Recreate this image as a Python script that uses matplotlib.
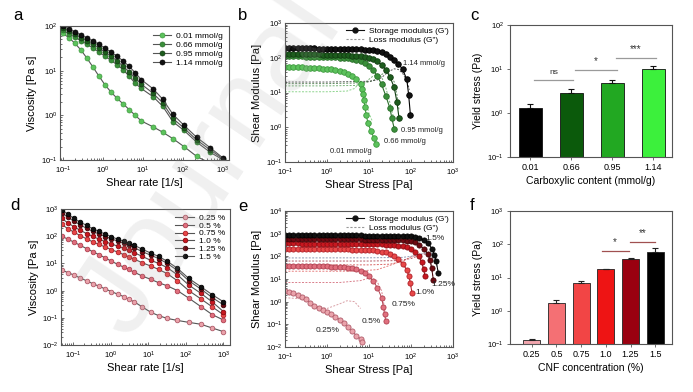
import matplotlib
matplotlib.use("Agg")  # no display in the sandbox
import matplotlib.pyplot as plt
import numpy as np
from matplotlib.lines import Line2D
from matplotlib.ticker import LogLocator, NullFormatter, NullLocator

plt.rcParams["font.family"] = ["Liberation Sans", "DejaVu Sans"]
plt.rcParams["mathtext.fontset"] = "custom"
plt.rcParams["mathtext.rm"] = "Liberation Sans"
plt.rcParams["axes.unicode_minus"] = True

# ---------------------------------------------------------------------------
# Data
# ---------------------------------------------------------------------------

# (a) viscosity vs shear rate, carboxylic content series
rate_a = [0.1, 0.141, 0.2, 0.283, 0.4, 0.566, 0.8, 1.13, 1.6, 2.26, 3.2,
          4.5, 6.4, 9.05, 18, 31, 56, 105, 220, 470, 1000]
visc_a_001 = [68, 55, 41, 29, 19, 12, 7.5, 4.8, 3.3, 2.4, 1.8, 1.35, 1.0,
              0.75, 0.55, 0.42, 0.3, 0.2, 0.12, 0.085, 0.06]
visc_a_066 = [80, 67, 56, 47, 39, 32, 26, 21, 17, 13.5, 10.5, 7.5, 5.2, 4.0,
              2.6, 1.6, 0.72, 0.46, 0.25, 0.15, 0.1]
visc_a_095 = [90, 77, 65, 55, 46, 39, 32, 26, 21, 16.5, 12.5, 9.5, 6.8, 5.0,
              3.1, 1.9, 0.85, 0.52, 0.28, 0.17, 0.105]
visc_a_114 = [100, 86, 74, 63, 54, 46, 39, 32, 26, 21, 16.5, 12.5, 9.0, 6.3,
              3.9, 2.3, 1.05, 0.6, 0.32, 0.19, 0.11]
labels_a = ["0.01 mmol/g", "0.66 mmol/g", "0.95 mmol/g", "1.14 mmol/g"]

# common stress sweep (b, e)
stress = [0.1, 0.126, 0.158, 0.2, 0.251, 0.316, 0.398, 0.501, 0.631, 0.794,
          1.0, 1.26, 1.58, 2.0, 2.51, 3.16, 3.98, 5.01, 6.31, 7.94,
          10.0, 12.6, 15.8, 20.0, 25.1, 31.6, 39.8, 50.1, 63.1, 79.4,
          100, 126, 158, 200, 251, 316, 398, 501]

# (b) storage modulus
x_b_114 = stress[:30] + [88, 97]
g_b_114 = [188, 188, 187, 187, 186, 186, 185, 185, 184, 184,
           183, 182, 181, 180, 179, 178, 177, 175, 173, 171,
           168, 164, 158, 145, 128, 108, 88, 68, 46, 24, 8.4, 2.2]
x_b_095 = stress[:27] + [46, 52]
g_b_095 = [128, 128, 127, 127, 127, 126, 126, 125, 125, 124,
           124, 123, 122, 121, 120, 118, 116, 113, 110, 105,
           98, 90, 78, 62, 45, 28, 14, 5.5, 1.8]
x_b_066 = stress[:26] + [35, 40]
g_b_066 = [110, 110, 109, 109, 109, 108, 108, 107, 107, 106,
           105, 104, 103, 101, 99, 96, 92, 87, 80, 70,
           58, 44, 30, 17, 8, 3.5, 1.8, 0.9]
x_b_001 = stress[:19] + [6.9, 7.2, 7.6, 8.0, 8.6, 9.5, 11, 13, 14.8]
g_b_001 = [54, 54, 53, 53, 53, 52, 52, 51, 50, 49,
           48, 46, 44, 41, 38, 34, 29, 24, 18,
           13, 9, 6, 3.8, 2.2, 1.3, 0.8, 0.5, 0.32]

# (b) loss modulus
lx_b_114 = [0.1, 1, 10, 15.8, 20, 25, 31.6, 40, 50, 63, 79, 92]
l_b_114 = [20, 20, 21, 23, 27, 34, 42, 48, 46, 36, 22, 12]
lx_b_095 = [0.1, 1, 7.9, 12.6, 15.8, 20, 25, 31.6, 40, 46, 52]
l_b_095 = [18, 18, 19, 22, 27, 33, 38, 34, 20, 9, 3]
lx_b_066 = [0.1, 1, 5, 7.9, 10, 12.6, 15.8, 20, 25, 31.6, 38]
l_b_066 = [15.5, 15.5, 16, 19, 24, 30, 34, 28, 14, 5, 2]
lx_b_001 = [0.1, 1, 3, 4.5, 5.5, 6.3, 7, 7.6, 8.6, 10, 12]
l_b_001 = [10.5, 10.5, 11, 13, 17, 21, 20, 12, 5, 2.5, 1.5]

# (c) yield stress vs carboxylic content
content_c = ["0.01", "0.66", "0.95", "1.14"]
yield_c = [1.3, 2.8, 4.9, 10.2]
err_c = [0.28, 0.75, 0.65, 1.4]

# (d) viscosity vs shear rate, CNF concentration series
rate_d = [0.05, 0.073, 0.107, 0.156, 0.23, 0.335, 0.49, 0.72, 1.05, 1.54,
          2.25, 3.0, 4.2, 7.0, 11.7, 19, 32, 60, 120, 250, 510, 1000]
visc_d_025 = [5.7, 4.6, 3.7, 2.9, 2.3, 1.8, 1.45, 1.15, 0.92, 0.74, 0.6,
              0.48, 0.39, 0.25, 0.16, 0.12, 0.095, 0.08, 0.068, 0.058,
              0.042, 0.031]
visc_d_050 = [100, 78, 60, 46, 35, 27, 21, 16, 12, 9.3, 7.2, 6.0, 4.8, 3.4,
              2.6, 1.95, 1.5, 1.0, 0.53, 0.26, 0.13, 0.083]
visc_d_075 = [270, 190, 140, 105, 80, 62, 50, 40, 32, 26, 21, 17.5, 14.5,
              10.5, 8, 6, 4.2, 2.3, 1.0, 0.5, 0.25, 0.13]
visc_d_100 = [450, 310, 220, 165, 125, 98, 78, 63, 52, 43, 36, 30, 25, 18,
              13, 10, 7, 3.8, 1.6, 0.8, 0.38, 0.17]
visc_d_125 = [720, 500, 350, 260, 195, 150, 120, 97, 80, 66, 55, 46, 38, 27,
              20, 15, 10, 5.5, 2.3, 1.15, 0.55, 0.3]
visc_d_150 = [950, 650, 450, 330, 250, 190, 150, 120, 95, 78, 65, 55, 47, 33,
              24, 18, 12, 6.6, 2.8, 1.4, 0.7, 0.39]
labels_d = ["0.25 %", "0.5 %", "0.75 %", "1.0 %", "1.25 %", "1.5 %"]

# (e) storage modulus
x_e_150 = stress[:36] + [360, 398, 445]
g_e_150 = [860, 860, 858, 858, 856, 856, 855, 855, 853, 852,
           850, 848, 846, 845, 843, 840, 838, 835, 832, 830,
           826, 822, 818, 814, 810, 805, 800, 795, 788, 780,
           760, 720, 640, 520, 380, 220, 117, 60, 19]
x_e_125 = stress[:35] + [285, 310, 340]
g_e_125 = [575, 575, 574, 573, 572, 572, 571, 570, 569, 568,
           567, 566, 565, 564, 562, 560, 558, 556, 554, 552,
           550, 547, 544, 540, 536, 532, 527, 520, 510, 495,
           470, 410, 320, 220, 130, 70, 31, 9.3]
x_e_100 = stress[:33] + [180, 200, 215]
g_e_100 = [370, 370, 369, 369, 368, 368, 367, 366, 366, 365,
           364, 363, 362, 361, 360, 358, 356, 354, 352, 350,
           347, 344, 340, 335, 330, 322, 312, 298, 280, 255,
           215, 160, 100, 55, 27, 13]
x_e_075 = stress[:30] + [88, 96, 105]
g_e_075 = [215, 215, 214, 214, 213, 213, 212, 211, 210, 209,
           208, 207, 206, 205, 204, 202, 200, 198, 195, 192,
           188, 182, 174, 162, 148, 128, 102, 74, 47, 25, 14, 7, 2.5]
x_e_050 = stress[:24] + [22, 23.5, 25]
g_e_050 = [38, 38, 38, 37.5, 37.5, 37, 37, 36.5, 36.5, 36,
           36, 35.5, 35, 34.5, 33.5, 32, 30, 27, 23, 18.5,
           13, 8, 4.2, 1.5, 0.6, 0.28, 0.14]
x_e_025 = stress[:19] + [7.0]
g_e_025 = [2.9, 2.7, 2.4, 2.0, 1.6, 1.25, 0.9, 0.65, 0.5, 0.42,
           0.35, 0.3, 0.22, 0.16, 0.11, 0.075, 0.05, 0.032, 0.022, 0.017]

# (e) loss modulus
lx_e_150 = [0.1, 10, 63, 100, 158, 200, 251, 316, 360, 398, 445]
l_e_150 = [85, 86, 90, 100, 120, 135, 145, 130, 100, 55, 20]
lx_e_125 = [0.1, 10, 50, 100, 158, 200, 251, 285, 310, 340]
l_e_125 = [62, 62, 65, 80, 110, 130, 110, 65, 30, 10]
lx_e_100 = [0.1, 10, 31.6, 63, 100, 126, 158, 180, 200, 215]
l_e_100 = [42, 42, 45, 60, 95, 110, 90, 55, 28, 13]
lx_e_075 = [0.1, 5, 15.8, 31.6, 50, 63, 79, 88, 96, 105]
l_e_075 = [22, 22, 26, 40, 55, 48, 28, 15, 7.5, 2.8]
lx_e_050 = [0.1, 2, 6.3, 10, 15, 20, 23.5, 25]
l_e_050 = [7, 7, 8.5, 11, 9, 3, 0.5, 0.15]
lx_e_025 = [0.1, 0.3, 0.6, 1.0, 2.0, 3.0, 4.5, 6.3]
l_e_025 = [1.5, 1.3, 0.6, 0.5, 0.8, 1.1, 1.0, 0.5]

# (f) yield stress vs CNF concentration
conc_f = ["0.25", "0.5", "0.75", "1.0", "1.25", "1.5"]
yield_f = [0.13, 1.75, 7.0, 17.5, 35, 60]
err_f = [0.015, 0.4, 0.9, 1.0, 4, 15]

# Colours
GREENS = ["#5cc25c", "#3a8f3a", "#1d5c1d", "#111111"]      # 0.01 .. 1.14 (a, b)
GREEN_EDGES = ["#3f9a3f", "#2a6e2a", "#123d12", "#000000"]
BAR_GREENS = ["#000000", "#0b5a0b", "#22a822", "#3cf03c"]  # (c)
REDS = ["#eaa3ab", "#e0707e", "#e84848", "#c81820", "#6e0a12", "#111111"]
RED_EDGES = ["#b05a68", "#b04050", "#b02028", "#8a0c12", "#400508", "#000000"]
BAR_REDS = ["#f2a6ae", "#f47074", "#f24545", "#ee1414", "#9a0010", "#000000"]
LINE_GREY = "#555555"
SPINE = "#555555"


def px(x, y):
    """Convert a pixel position of the 693x392 canvas to figure fractions."""
    return x / 693, 1 - y / 392


def axes_box(left, top, right, bottom):
    return [left / 693, 1 - bottom / 392, (right - left) / 693, (bottom - top) / 392]


def style_log(ax, xlim, ylim):
    ax.set_xscale("log")
    ax.set_yscale("log")
    ax.set_xlim(*xlim)
    ax.set_ylim(*ylim)
    for axis in (ax.xaxis, ax.yaxis):
        axis.set_major_locator(LogLocator(base=10, numticks=12))
        axis.set_minor_locator(LogLocator(base=10, subs=np.arange(2, 10), numticks=12))
        axis.set_minor_formatter(NullFormatter())
    ax.tick_params(which="both", direction="in", labelsize=5.5, width=0.6,
                   color=SPINE, pad=2)
    ax.tick_params(axis="x", which="both", pad=3.5)
    ax.tick_params(which="major", length=2.5)
    ax.tick_params(which="minor", length=1.3)
    for s in ax.spines.values():
        s.set_linewidth(0.8)
        s.set_color(SPINE)


def style_bar(ax, ylim):
    ax.set_yscale("log")
    ax.set_ylim(*ylim)
    ax.yaxis.set_major_locator(LogLocator(base=10, numticks=12))
    ax.yaxis.set_minor_locator(NullLocator())
    ax.tick_params(axis="y", direction="out", labelsize=5.5, length=2.5,
                   width=0.6, color=SPINE, pad=2)
    ax.tick_params(axis="x", direction="out", labelsize=6.5, length=2.5,
                   width=0.6, color=SPINE, pad=2)
    for s in ax.spines.values():
        s.set_linewidth(0.8)
        s.set_color(SPINE)


fig = plt.figure(figsize=(6.93, 3.92), dpi=100)

# ---------------------------------------------------------------------------
# (a)
# ---------------------------------------------------------------------------
ax_a = fig.add_axes(axes_box(60, 26, 229, 160))
series_a = [visc_a_001, visc_a_066, visc_a_095, visc_a_114]
for vals, col, ecol, lab in zip(series_a, GREENS, GREEN_EDGES, labels_a):
    ax_a.plot(rate_a, vals, "-o", color=LINE_GREY, lw=0.8, ms=3.6,
              mfc=col, mec=ecol, mew=0.5, label=lab)
style_log(ax_a, (0.085, 1400), (0.1, 100))
ax_a.set_xlabel("Shear rate [1/s]", fontsize=8, labelpad=1)
ax_a.set_ylabel("Viscosity [Pa s]", fontsize=8, labelpad=3)
ax_a.legend(loc="upper right", fontsize=6, frameon=False, handlelength=2.2,
            handletextpad=0.6, labelspacing=0.15, borderaxespad=0.3)

# ---------------------------------------------------------------------------
# (b)
# ---------------------------------------------------------------------------
ax_b = fig.add_axes(axes_box(285, 23, 453, 162))
b_storage = [(x_b_001, g_b_001), (x_b_066, g_b_066), (x_b_095, g_b_095), (x_b_114, g_b_114)]
b_loss = [(lx_b_001, l_b_001), (lx_b_066, l_b_066), (lx_b_095, l_b_095), (lx_b_114, l_b_114)]
for (lx, ly), col in zip(b_loss, GREENS):
    ax_b.plot(lx, ly, ls=(0, (2, 1.5)), color=col, lw=0.7, alpha=0.7)
for (sx, sy), col, ecol in zip(b_storage, GREENS, GREEN_EDGES):
    ax_b.plot(sx, sy, "-o", color=ecol, lw=0.8, ms=4.0, mfc=col, mec=ecol, mew=0.6)
style_log(ax_b, (0.1, 1000), (0.1, 1000))
ax_b.set_xlabel("Shear Stress [Pa]", fontsize=8, labelpad=1)
ax_b.set_ylabel("Shear Modulus [Pa]", fontsize=8, labelpad=3)
handles_b = [Line2D([], [], color="#111111", marker="o", ms=3.5, lw=0.8),
             Line2D([], [], color="#999999", ls=(0, (2, 1.5)), lw=0.8)]
ax_b.legend(handles_b, ["Storage modulus (G')", 'Loss modulus (G")'],
            loc="upper right", fontsize=6, frameon=False, handlelength=2.2,
            handletextpad=0.6, labelspacing=0.1, borderaxespad=0.1)
for txt, (xf, yf) in zip(["1.14 mmol/g", "0.95 mmol/g", "0.66 mmol/g", "0.01 mmol/g"],
                         [(0.70, 0.71), (0.69, 0.23), (0.59, 0.146), (0.268, 0.074)]):
    ax_b.text(xf, yf, txt, transform=ax_b.transAxes, fontsize=5.5,
              ha="left", va="center", color="#222222", zorder=5)

# ---------------------------------------------------------------------------
# (c)
# ---------------------------------------------------------------------------
ax_c = fig.add_axes(axes_box(510, 25, 672, 157))
pos_c = np.arange(len(content_c))
ax_c.bar(pos_c, yield_c, width=0.56, color=BAR_GREENS, edgecolor="#111111",
         linewidth=0.6, yerr=[[0] * len(err_c), err_c], capsize=2.5,
         error_kw=dict(elinewidth=0.8, capthick=0.8, ecolor="#111111"))
style_bar(ax_c, (0.1, 100))
ax_c.set_xlim(-0.5, 3.46)
ax_c.set_xticks(pos_c)
ax_c.set_xticklabels(content_c)
ax_c.set_xlabel("Carboxylic content (mmol/g)", fontsize=7.5, labelpad=3)
ax_c.set_ylabel("Yield stress (Pa)", fontsize=7.5, labelpad=3)
for x0, x1, yl, mark in [(0.08, 1.04, 5.6, "ns"), (1.08, 2.12, 9.5, "*"),
                         (2.08, 3.08, 17.5, "***")]:
    ax_c.plot([x0, x1], [yl, yl], color="#9a9a9a", lw=0.9)
    ax_c.text((x0 + x1) / 2, yl * 1.25, mark, ha="center", va="bottom",
              fontsize=6 if mark == "ns" else 7, color="#333333")

# ---------------------------------------------------------------------------
# (d)
# ---------------------------------------------------------------------------
ax_d = fig.add_axes(axes_box(61, 209, 230, 345))
series_d = [visc_d_025, visc_d_050, visc_d_075, visc_d_100, visc_d_125, visc_d_150]
for vals, col, ecol, lab in zip(series_d, REDS, RED_EDGES, labels_d):
    ax_d.plot(rate_d, vals, "-o", color=LINE_GREY, lw=0.8, ms=3.3,
              mfc=col, mec=ecol, mew=0.6, label=lab)
style_log(ax_d, (0.048, 1500), (0.01, 1000))
ax_d.set_xlabel("Shear rate [1/s]", fontsize=8, labelpad=1)
ax_d.set_ylabel("Viscosity [Pa s]", fontsize=8, labelpad=2)
ax_d.legend(loc="upper right", fontsize=6, frameon=False, handlelength=2.2,
            handletextpad=0.6, labelspacing=0.0, borderaxespad=0.2)

# ---------------------------------------------------------------------------
# (e)
# ---------------------------------------------------------------------------
ax_e = fig.add_axes(axes_box(285, 211, 453, 347))
e_storage = [(x_e_025, g_e_025), (x_e_050, g_e_050), (x_e_075, g_e_075),
             (x_e_100, g_e_100), (x_e_125, g_e_125), (x_e_150, g_e_150)]
e_loss = [(lx_e_025, l_e_025), (lx_e_050, l_e_050), (lx_e_075, l_e_075),
          (lx_e_100, l_e_100), (lx_e_125, l_e_125), (lx_e_150, l_e_150)]
loss_cols_e = ["#d08890", "#d06070", "#e06060", "#d04040", "#a03040", "#7080a0"]
for (lx, ly), col in zip(e_loss, loss_cols_e):
    ax_e.plot(lx, ly, ls=(0, (2, 1.5)), color=col, lw=0.7, alpha=0.8)
for (sx, sy), col, ecol in zip(e_storage, REDS, RED_EDGES):
    ax_e.plot(sx, sy, "-o", color=ecol, lw=0.7, ms=3.7, mfc=col, mec=ecol, mew=0.6)
style_log(ax_e, (0.1, 1000), (0.01, 10000))
ax_e.set_xlabel("Shear Stress [Pa]", fontsize=8, labelpad=1)
ax_e.set_ylabel("Shear Modulus [Pa]", fontsize=8, labelpad=3)
ax_e.legend(handles_b, ["Storage modulus (G')", 'Loss modulus (G")'],
            loc="upper right", fontsize=6, frameon=False, handlelength=2.2,
            handletextpad=0.6, labelspacing=0.1, borderaxespad=0.1)
for txt, (xf, yf) in zip(["1.5%", "1.25%", "1.0%", "0.75%", "0.5%", "0.25%"],
                         [(0.835, 0.80), (0.87, 0.46), (0.774, 0.40),
                          (0.637, 0.316), (0.458, 0.19), (0.185, 0.118)]):
    ax_e.text(xf, yf, txt, transform=ax_e.transAxes, fontsize=6,
              ha="left", va="center", color="#222222", zorder=5)

# ---------------------------------------------------------------------------
# (f)
# ---------------------------------------------------------------------------
ax_f = fig.add_axes(axes_box(510, 211, 672, 344))
pos_f = np.arange(len(conc_f))
ax_f.bar(pos_f, yield_f, width=0.68, color=BAR_REDS, edgecolor="#222222",
         linewidth=0.6, yerr=[[0] * len(err_f), err_f], capsize=2.5,
         error_kw=dict(elinewidth=0.8, capthick=0.8, ecolor="#222222"))
style_bar(ax_f, (0.1, 1000))
ax_f.set_xlim(-0.88, 5.68)
ax_f.set_xticks(pos_f)
ax_f.set_xticklabels(conc_f)
ax_f.set_xlabel("CNF concentration (%)", fontsize=7.5, labelpad=3)
ax_f.set_ylabel("Yield stress (Pa)", fontsize=7.5, labelpad=3)
for x0, x1, yl, mark in [(2.84, 3.92, 63, "*"), (3.99, 5.0, 120, "**")]:
    ax_f.plot([x0, x1], [yl, yl], color="#a05050", lw=0.9)
    ax_f.text((x0 + x1) / 2, yl * 1.3, mark, ha="center", va="bottom",
              fontsize=7, color="#333333")

# Panel letters
for letter, (x, y) in zip("abcdef", [(18, 16), (243, 16), (474, 16),
                                     (15, 205), (243, 207), (472, 205)]):
    fig.text(*px(x, y), letter, fontsize=12, ha="center", va="center")

# Watermark over the whole figure (light, runs off the top edge as in the source)
fig.text(*px(210, 165), "Journal", rotation=56, fontsize=84, color="#a0a0a0",
         alpha=0.16, ha="center", va="center", zorder=20)

fig.savefig("out.png", dpi=100)
